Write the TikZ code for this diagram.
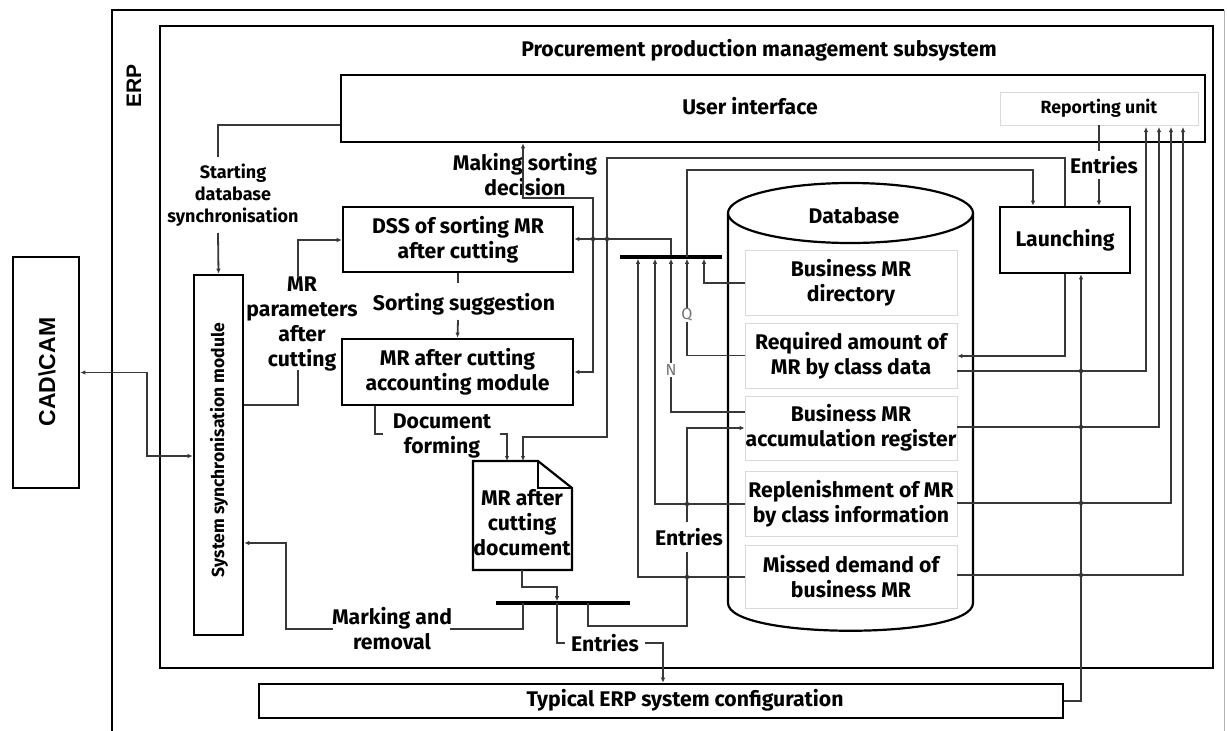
\documentclass[tikz,border=0pt]{standalone}
\usepackage{fontspec}
\setmainfont{Fira Sans}
\newfontfamily\arialf{Liberation Sans}
\usetikzlibrary{arrows.meta}
\newcommand\lbl{\fontsize{21.2}{25}\selectfont\bfseries}
\newcommand\midlbl{\fontsize{18}{22}\selectfont\bfseries}
\newcommand\smlbl{\fontsize{17.7}{20}\selectfont\bfseries}
\begin{document}
\begin{tikzpicture}[x=1pt,y=-1pt,
  box/.style={draw=black,line width=2.6pt,fill=white,inner sep=0pt},
  dbrow/.style={draw=black!15,line width=0.8pt,fill=white,inner sep=0pt,minimum width=212pt,align=center,font=\lbl},
  txt/.style={inner sep=0pt,align=center,font=\lbl},
  conn/.style={draw=black!78,line width=1.8pt},
  arr/.style={conn,-{Latex[length=5pt,width=4.5pt]}},
  barr/.style={conn,{Latex[length=5pt,width=4.5pt]}-{Latex[length=5pt,width=4.5pt]}},
  jdot/.style={circle,fill=black!80,inner sep=0pt,minimum size=4.5pt},
  bar/.style={fill=black,inner sep=0pt,minimum height=3.6pt}
]
\useasboundingbox (0,0) rectangle (1227,731);
% frames
\draw[line width=2.6pt] (112,731) -- (112,10) -- (1224,10);
\draw[black!30,line width=1pt] (1224,10) -- (1224,731);
\draw[line width=2.6pt] (160,26) rectangle (1213,668);
\node[inner sep=0pt,rotate=90,font=\arialf\fontsize{21}{24}\selectfont\bfseries] (erplbl) at (134,86) {ERP};
\node[txt] (title) at (759,50) {Procurement production management subsystem};

% main boxes
\node[box,minimum width=864pt,minimum height=67pt] (ui) at (773,108.5) {};
\node[txt] (uilbl) at (750,106) {User interface};
\node[draw=black!15,line width=0.8pt,inner sep=0pt,minimum width=198pt,minimum height=33pt,font=\smlbl] (rep) at (1099,108.5) {Reporting unit};
\node[box,minimum width=130pt,minimum height=66pt,font=\lbl] (launch) at (1065,240) {Launching};
\node[box,minimum width=230pt,minimum height=65pt,align=center,font=\lbl] (dss) at (458,239.5) {DSS of sorting MR\\after cutting};
\node[box,minimum width=231pt,minimum height=66pt,align=center,font=\lbl] (acc) at (457.5,372) {MR after cutting\\accounting module};
\node[box,minimum width=49pt,minimum height=360pt] (sync) at (218.5,455) {};
\node[inner sep=0pt,rotate=90,font=\fontsize{17.5}{20}\selectfont\bfseries] (synclbl) at (219,450) {System synchronisation module};
\node[box,minimum width=66pt,minimum height=231pt] (cad) at (46,372.5) {};
\node[inner sep=0pt,rotate=90,font=\arialf\fontsize{23}{26}\selectfont\bfseries] (cadlbl) at (47,372) {CAD\textbackslash CAM};
\node[box,minimum width=804pt,minimum height=34pt,font=\lbl] (erp) at (661,701) {};
\node[txt] (erplabel) at (685,700) {Typical ERP system configuration};

% database cylinder
\filldraw[fill=white,draw=black,line width=2.2pt] (728,213) -- (728,603) .. controls (728,640) and (973,640) .. (973,603) -- (973,213);
\draw[black,line width=2.2pt,fill=white] (850.5,213) ellipse [x radius=122.5pt, y radius=30pt];
\node[txt] (dblbl) at (854,216) {Database};
\node[dbrow,minimum height=65pt] (dir) at (851,282.5) {Business MR\\directory};
\node[dbrow,minimum height=65pt] (req) at (851,355.5) {Required amount of\\MR by class data};
\node[dbrow,minimum height=64pt] (accum) at (851,428) {Business MR\\accumulation register};
\node[dbrow,minimum height=65pt] (repl) at (851,503.5) {Replenishment of MR\\by class information};
\node[dbrow,minimum height=63pt] (miss) at (851,576.5) {Missed demand of\\business MR};

% document
\draw[line width=2.2pt,fill=white] (473,461) -- (538,461) -- (572,488) -- (572,570) -- (473,570) -- cycle;
\draw[line width=2.2pt] (538,461) -- (538,488) -- (572,488);
\node[txt] (doc) at (522,523) {MR after\\cutting\\document};

% bars
\node[bar,minimum width=102pt] (bar) at (671,257) {};
\node[bar,minimum width=134pt] (bartwo) at (563,603) {};

% labels
\node[txt,font=\midlbl] (start) at (233,195) {Starting\\database\\synchronisation};
\node[txt] (mrpar) at (302,324) {MR\\parameters\\after\\cutting};
\node[txt] (sortsug) at (464,304) {Sorting suggestion};
\node[txt] (making) at (525,175) {Making sorting\\decision};
\node[txt] (docform) at (442,436) {Document\\forming};
\node[txt] (marking) at (392,629) {Marking and\\removal};
\node[txt] (entA) at (605,643) {Entries};
\node[txt] (entB) at (689,537) {Entries};
\node[txt] (entC) at (1104,165) {Entries};

% connectors
\draw[conn] (ui.west |- 0,125) -- (218,125) -- (218,157);
\draw[arr] (218,233) -- (sync.north);
\draw[conn] (sync.east |- 0,405) -- (298,405) -- (298,370);
\draw[arr] (298,278) -- (298,240) -- (dss.west |- 0,240);
\draw[barr] (cad.east) -- (147,372.5) -- (147,456) -- (sync.west |- 0,456);
\draw[conn] (dss.south) -- (458,283);
\draw[arr] (458,320) -- (acc.north);
\draw[barr] (acc.east) -- (593,372) -- (593,198) -- (523,198) -- (ui.south -| 523,0);
% into bar
\draw[arr] (dir.west |- 0,283) -- (704,283) -- (704,258.8);
\draw[arr] (req.west) -- (687,355.5) -- (687,258.8);
\draw[arr] (687,257) -- (687,170) -- (1033,170) -- (launch.north -| 1033,0);
\draw[arr] (accum.west |- 0,412) -- (671,412) -- (671,258.8);
\draw[arr] (repl.west |- 0,504) -- (655,504) -- (655,258.8);
\draw[arr] (miss.west |- 0,577) -- (638,577) -- (638,258.8);
\node[fill=white,inner sep=1pt,text=black!55,font=\fontsize{16}{18}\selectfont] (qlbl) at (687,315) {Q};
\node[fill=white,inner sep=1pt,text=black!55,font=\fontsize{16}{18}\selectfont] (nlbl) at (671,370) {N};
% out of bar
\draw[arr] (671,255.2) -- (671,239) -- (dss.east |- 0,239);
\node[jdot] (jd1) at (593,239) {};
\node[jdot] (jd2) at (607,239) {};
% launch to doc
\draw[arr] (launch.north -| 1065,0) -- (1065,158) -- (607,158) -- (607,437) -- (523,437) -- (523,461);
\draw[conn] (rep.south) -- (1099,151);
\draw[arr] (1099,179) -- (launch.north -| 1099,0);
\draw[arr] (launch.south -| 1065,0) -- (1065,356) -- (req.east |- 0,356);
\draw[arr] (erp.east) -- (1081,701) -- (launch.south -| 1081,0);
\foreach \yy in {371,427,503,575} \node[jdot] at (1081,\yy) {};
% to reporting unit
\draw[arr] (req.east |- 0,371) -- (1146,371) -- (1146,127);
\draw[arr] (accum.east |- 0,427) -- (1159,427) -- (1159,127);
\draw[arr] (repl.east |- 0,503) -- (1171,503) -- (1171,127);
\draw[arr] (miss.east |- 0,575) -- (1183,575) -- (1183,127);
% document forming
\draw[conn] (acc.south -| 375,0) -- (375,434) -- (383,434);
\draw[arr] (500,434) -- (507,434) -- (507,461);
% doc to lower bar
\draw[arr] (522,570) -- (522,587) -- (557,587) -- (557,601.2);
\draw[conn] (523,603) -- (523,629) -- (450,629);
\draw[arr] (333,629) -- (286,629) -- (286,543) -- (sync.east |- 0,543);
\draw[conn] (557,603) -- (557,643) -- (565,643);
\draw[arr] (645,643) -- (663,643) -- (erp.north -| 663,0);
\draw[conn] (588,603) -- (588,626) -- (687,626) -- (687,552);
\draw[arr] (687,522) -- (687,428) -- (accum.west);
\node[jdot] at (687,504) {};
\node[jdot] at (687,577) {};
\end{tikzpicture}
\end{document}
